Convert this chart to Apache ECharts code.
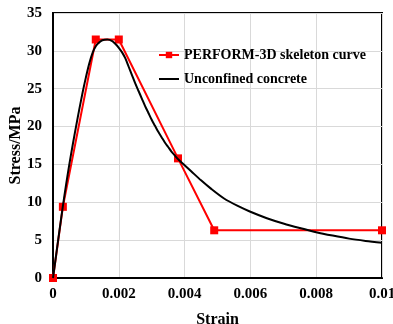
<!DOCTYPE html>
<html>
<head>
<meta charset="utf-8">
<script src="https://cdn.jsdelivr.net/npm/echarts@6/dist/echarts.min.js"></script>
<style>
  html, body { margin: 0; padding: 0; background: #fff; }
  #chart { width: 393px; height: 324px; }
</style>
</head>
<body>
<div id="chart"></div>
<script>
// PERFORM-3D skeleton (multi-linear) points: strain, stress (MPa)
const skeletonStrain = [0, 0.0003, 0.0013, 0.002, 0.0038, 0.0049, 0.01];
const skeletonStress = [0, 9.4, 31.5, 31.5, 15.8, 6.3, 6.3];

// Unconfined concrete stress-strain curve
const concreteStrain = [0, 0.0001, 0.0002, 0.0003, 0.0004, 0.0005, 0.0006, 0.0007, 0.0008, 0.0009,
  0.001, 0.0011, 0.0012, 0.0013, 0.0014, 0.0015, 0.00165, 0.0018, 0.0019, 0.002,
  0.0021, 0.0022, 0.0023, 0.0024, 0.0025, 0.0026, 0.0027, 0.0028, 0.0029, 0.003,
  0.0031, 0.0032, 0.0033, 0.0034, 0.0035, 0.0036, 0.0037, 0.0038, 0.0039, 0.004,
  0.0042, 0.0045, 0.0048, 0.0052, 0.0056, 0.006, 0.0065, 0.007, 0.0075, 0.008,
  0.0085, 0.009, 0.0095, 0.01];
const concreteStress = [0, 3.2, 6.4, 9.5, 12.4, 15.1, 17.6, 20.0, 22.3, 24.5,
  26.5, 28.3, 29.7, 30.6, 31.1, 31.4, 31.5, 31.3, 30.9, 30.4,
  29.8, 29.0, 27.9, 26.8, 25.7, 24.7, 23.7, 22.7, 21.8, 20.9,
  20.1, 19.3, 18.6, 17.9, 17.3, 16.7, 16.2, 15.7, 15.3, 14.9,
  14.1, 12.9, 11.8, 10.5, 9.55, 8.75, 7.9, 7.2, 6.6, 6.05,
  5.6, 5.2, 4.9, 4.65];

const seriesNames = ['PERFORM-3D skeleton curve', 'Unconfined concrete'];
const xTitle = 'Strain';
const yTitle = 'Stress/MPa';

const pairs = (xs, ys) => xs.map((x, i) => [x, ys[i]]);
const serif = '"Liberation Serif", "Times New Roman", serif';

const chart = echarts.init(document.getElementById('chart'), null, { renderer: 'canvas' });
chart.setOption({
  animation: false,
  backgroundColor: '#ffffff',
  grid: {
    left: 53, right: 11, top: 13, bottom: 46,
    containLabel: false, outerBoundsMode: 'none',
    show: true, borderColor: '#000', borderWidth: 2, backgroundColor: 'transparent'
  },
  legend: {
    orient: 'vertical',
    left: 153, top: 43,
    itemWidth: 20, itemHeight: 8, itemGap: 10,
    textStyle: { fontFamily: serif, fontWeight: 'bold', fontSize: 14, color: '#000' },
    data: [
      { name: seriesNames[0] },
      // plain line key, no marker
      { name: seriesNames[1], itemStyle: { opacity: 0 } }
    ]
  },
  xAxis: {
    type: 'value', min: 0, max: 0.01, interval: 0.002,
    name: xTitle, nameLocation: 'middle', nameGap: 34, nameMoveOverlap: false,
    nameTextStyle: { fontFamily: serif, fontWeight: 'bold', fontSize: 16, color: '#000' },
    axisLine: { show: true, lineStyle: { color: '#000', width: 2 } },
    axisTick: { show: false },
    axisLabel: { fontFamily: serif, fontWeight: 'bold', fontSize: 15, color: '#000', margin: 9 },
    splitLine: { show: true, lineStyle: { color: '#d9d9d9', width: 1 } }
  },
  yAxis: {
    type: 'value', min: 0, max: 35, interval: 5,
    name: yTitle, nameLocation: 'middle', nameGap: 29, nameMoveOverlap: false,
    nameTextStyle: { fontFamily: serif, fontWeight: 'bold', fontSize: 16, color: '#000' },
    axisLine: { show: true, lineStyle: { color: '#000', width: 2 } },
    axisTick: { show: false },
    axisLabel: { fontFamily: serif, fontWeight: 'bold', fontSize: 15, color: '#000', margin: 11 },
    splitLine: { show: true, lineStyle: { color: '#d9d9d9', width: 1 } }
  },
  series: [
    {
      name: seriesNames[0], type: 'line',
      data: pairs(skeletonStrain, skeletonStress),
      symbol: 'rect', symbolSize: 8,
      lineStyle: { color: '#ff0000', width: 2 },
      itemStyle: { color: '#ff0000' },
      z: 3
    },
    {
      name: seriesNames[1], type: 'line',
      data: pairs(concreteStrain, concreteStress),
      smooth: 0.3, showSymbol: false, symbol: 'none',
      lineStyle: { color: '#000', width: 2 },
      itemStyle: { color: '#000' },
      z: 4
    }
  ]
});
</script>
</body>
</html>
